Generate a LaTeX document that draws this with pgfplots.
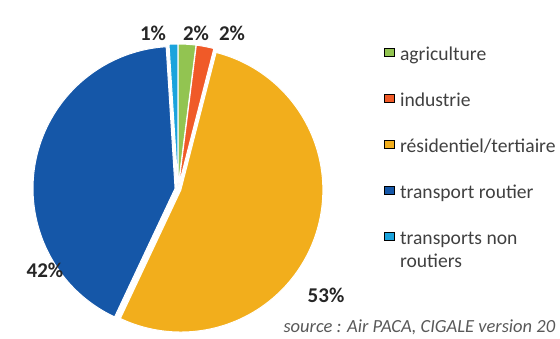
\documentclass[border=0pt]{standalone}
\usepackage{pgfplots}
\usepackage{pgfplotstable}
\pgfplotsset{compat=1.18}
\usepackage{fontspec}
\setmainfont{Carlito}

\definecolor{cagri}{HTML}{92C451}
\definecolor{cindu}{HTML}{F05A28}
\definecolor{cresi}{HTML}{F2AE1C}
\definecolor{croute}{HTML}{1557A8}
\definecolor{cnonr}{HTML}{1AA3DC}
\definecolor{labtxt}{HTML}{262626}
\definecolor{legtxt}{HTML}{404040}
\definecolor{srctxt}{HTML}{595959}

% share of each sector (%), clockwise from 12 o'clock, with label position
\pgfplotstableread{
name      value colour lx  ly
agri      2     cagri  196 33
indu      2     cindu  232 33
resi      53    cresi  326 295
route     42    croute 45  270
nonroute  1     cnonr  153 33
}\piedata

\def\pcx{178}
\def\pcy{189}
\def\prad{142}

\begin{document}
\begin{tikzpicture}
\begin{axis}[
    scale only axis, width=560bp, height=338bp,
    xmin=0, xmax=560, ymin=0, ymax=338, y dir=reverse,
    hide axis, clip=false,
    legend style={at={(0.6857,0.8639)}, anchor=north west, draw=none, fill=none,
      inner sep=0pt, font=\fontsize{19.6bp}{24bp}\selectfont, text=legtxt,
      row sep=27bp, column sep=6bp,
      nodes={inner sep=0pt, text height=14bp, text depth=5bp}},
    legend cell align=left,
    legend image code/.code={\fill[#1] (0bp,-0.5bp) rectangle (9.5bp,8bp);},
  ]
  \pgfplotstablegetrowsof{\piedata}
  \pgfmathtruncatemacro\lastrow{\pgfplotsretval-1}
  \def\cum{0}
  \pgfplotsforeachungrouped \i in {0,...,\lastrow}{%
    \pgfplotstablegetelem{\i}{value}\of\piedata \let\sliceval\pgfplotsretval
    \pgfplotstablegetelem{\i}{colour}\of\piedata \let\slicecol\pgfplotsretval
    \pgfplotstablegetelem{\i}{lx}\of\piedata \let\labx\pgfplotsretval
    \pgfplotstablegetelem{\i}{ly}\of\piedata \let\laby\pgfplotsretval
    \pgfmathsetmacro\angA{90-3.6*\cum}
    \pgfmathsetmacro\angB{90-3.6*(\cum+\sliceval)}
    \pgfmathsetmacro\angM{(\angA+\angB)/2}
    \edef\slice{\noexpand\fill[\slicecol, draw=white, line width=1bp]
      (axis cs:\pcx,\pcy) ++(\angM:3bp) -- ++(\angA:\prad bp)
      arc[start angle=\angA, end angle=\angB, radius=\prad bp] -- cycle;
      \noexpand\node[text=labtxt, font=\noexpand\fontsize{21bp}{24bp}\noexpand\selectfont\noexpand\bfseries]
      at (axis cs:\labx,\laby) {\sliceval\%};}
    \slice
    \pgfmathsetmacro\cum{\cum+\sliceval}
  }
  \addlegendimage{fill=cagri}
  \addlegendentry{agriculture}
  \addlegendimage{fill=cindu}
  \addlegendentry{industrie}
  \addlegendimage{fill=cresi}
  \addlegendentry{résidentiel/tertiaire}
  \addlegendimage{fill=croute}
  \addlegendentry{transport routier}
  \addlegendimage{fill=cnonr}
  \addlegendentry{\makebox[0pt][l]{\raisebox{-23bp}[0pt][0pt]{routiers}}transports non}
  \node[anchor=west, text=srctxt, font=\fontsize{18.5bp}{22bp}\selectfont\itshape]
    at (axis cs:280,327) {source : Air PACA, CIGALE version 20};
\end{axis}
\pgfresetboundingbox
\path (current axis.south west) rectangle (current axis.north east);
\end{tikzpicture}
\end{document}
